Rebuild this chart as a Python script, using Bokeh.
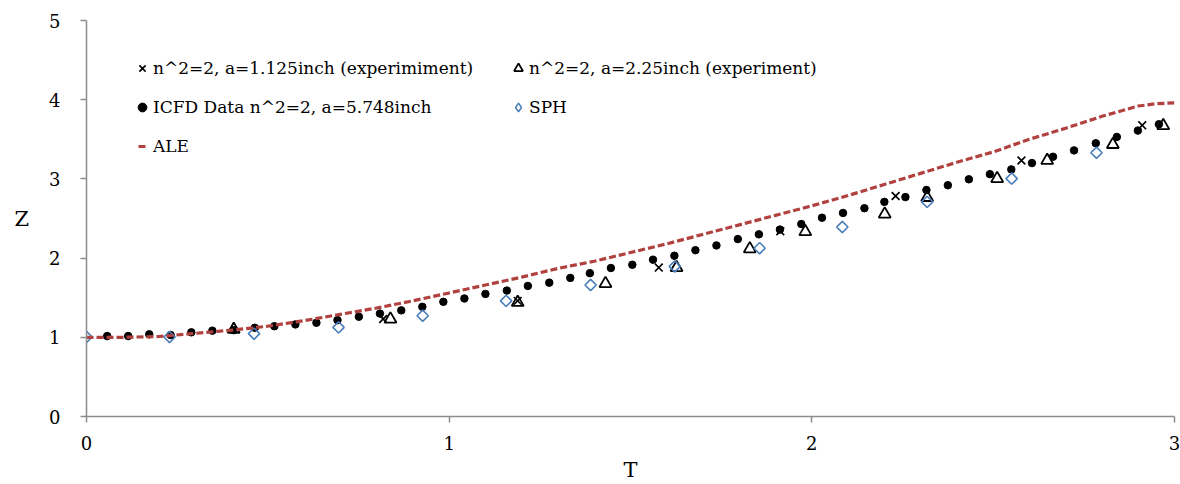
import numpy as np
from bokeh.plotting import figure
from bokeh.models import Range1d, FixedTicker, Legend, LegendItem
from bokeh.embed import file_html
from bokeh.resources import INLINE

# ---------------- data ----------------
# experiment, a = 1.125 inch (x markers)
exp1_t = [0.818, 1.189, 1.578, 1.913, 2.231, 2.578, 2.911]
exp1_z = [1.23, 1.46, 1.88, 2.34, 2.785, 3.233, 3.676]

# experiment, a = 2.25 inch (triangles)
exp2_t = [0.406, 0.838, 1.189, 1.431, 1.627, 1.829, 1.982, 2.201, 2.318, 2.511, 2.649, 2.830, 2.969]
exp2_z = [1.10, 1.23, 1.44, 1.678, 1.88, 2.117, 2.334, 2.556, 2.765, 3.004, 3.233, 3.434, 3.672]

# ICFD data (dots)
icfd_t = [0.057, 0.115, 0.173, 0.232, 0.289, 0.347, 0.406, 0.464, 0.518, 0.576,
          0.634, 0.692, 0.751, 0.809, 0.868, 0.926, 0.984, 1.042, 1.100, 1.159,
          1.217, 1.276, 1.334, 1.388, 1.446, 1.505, 1.562, 1.621, 1.679, 1.737,
          1.796, 1.854, 1.912, 1.971, 2.028, 2.086, 2.145, 2.200, 2.258, 2.316,
          2.375, 2.433, 2.491, 2.550, 2.607, 2.665, 2.723, 2.783, 2.841, 2.899, 2.957]
icfd_z = [1.016, 1.016, 1.038, 1.029, 1.063, 1.084, 1.09, 1.12, 1.14, 1.163,
          1.184, 1.217, 1.26, 1.30, 1.34, 1.385, 1.448, 1.49, 1.548, 1.59,
          1.649, 1.69, 1.75, 1.81, 1.875, 1.916, 1.98, 2.03, 2.10, 2.16,
          2.24, 2.30, 2.36, 2.43, 2.51, 2.57, 2.63, 2.71, 2.77, 2.86,
          2.92, 2.995, 3.06, 3.12, 3.20, 3.28, 3.36, 3.45, 3.53, 3.61, 3.69]

# SPH (diamonds)
sph_t = [0.0, 0.229, 0.462, 0.695, 0.927, 1.157, 1.390, 1.622, 1.856, 2.084, 2.318, 2.551, 2.785]
sph_z = [1.004, 1.004, 1.046, 1.125, 1.272, 1.46, 1.66, 1.895, 2.125, 2.393, 2.71, 3.004, 3.33]

# ALE (dashed line)
ale_t = [0.0, 0.1, 0.2, 0.3, 0.4, 0.5, 0.6, 0.7, 0.8, 0.9, 1.0, 1.1, 1.2, 1.3, 1.4, 1.5,
         1.6, 1.7, 1.8, 1.9, 2.0, 2.1, 2.2, 2.3, 2.4, 2.5, 2.6, 2.7, 2.8, 2.9, 2.95, 3.0]
ale_z = [1.0, 1.0, 1.01, 1.05, 1.09, 1.14, 1.21, 1.29, 1.37, 1.46, 1.56, 1.66, 1.76, 1.87, 1.96, 2.07,
         2.18, 2.30, 2.42, 2.54, 2.66, 2.79, 2.93, 3.07, 3.21, 3.34, 3.50, 3.64, 3.79, 3.92, 3.95, 3.96]

x_ticks = [0, 1, 2, 3]
y_ticks = [0, 1, 2, 3, 4, 5]

labels = ["n^2=2, a=1.125inch (experimiment)",
          "n^2=2, a=2.25inch (experiment)",
          "ICFD Data n^2=2, a=5.748inch",
          "SPH",
          "ALE"]

FONT = "DejaVu Serif"
RED = "#B0413E"
BLUE = "#4A7EBB"
AXIS = "#8C8C8C"

p = figure(width=1180, height=484, output_backend="svg", toolbar_location=None,
           x_range=Range1d(0, 3), y_range=Range1d(0, 5),
           min_border_left=86, min_border_right=6, min_border_top=20, min_border_bottom=65)
p.outline_line_color = None
p.xgrid.visible = False
p.ygrid.visible = False
p.background_fill_color = "white"
p.border_fill_color = "white"

for ax, ticks in ((p.xaxis, x_ticks), (p.yaxis, y_ticks)):
    ax.ticker = FixedTicker(ticks=ticks)
    ax.minor_tick_line_color = None
    ax.axis_line_color = AXIS
    ax.axis_line_width = 1.5
    ax.major_tick_line_color = AXIS
    ax.major_tick_line_width = 1.5
    ax.major_tick_in = 0
    ax.major_tick_out = 6
    ax.major_label_text_font = FONT
    ax.major_label_text_font_size = "18px"
    ax.major_label_text_color = "black"
    ax.axis_label_text_font = FONT
    ax.axis_label_text_font_size = "21px"
    ax.axis_label_text_font_style = "normal"
    ax.axis_label_text_color = "black"

p.xaxis.axis_label = "T"
p.xaxis.major_label_standoff = 13
p.xaxis.axis_label_standoff = 5
p.yaxis.axis_label = "Z"
p.yaxis.axis_label_orientation = "horizontal"
p.yaxis.major_label_standoff = 20
p.yaxis.axis_label_standoff = 17

r_x = p.scatter(exp1_t, exp1_z, marker="x", size=11, line_color="black", line_width=1.7)
r_tri = p.scatter(exp2_t, exp2_z, marker="triangle", size=12, line_color="black",
                  line_width=1.8, fill_alpha=0)
r_dot = p.scatter(icfd_t, icfd_z, marker="circle", size=7.5, fill_color="black", line_color="black")
r_sph = p.scatter(sph_t, sph_z, marker="square", angle=np.pi / 4, size=8, line_color=BLUE,
                  line_width=1.6, fill_alpha=0)
r_ale = p.line(ale_t, ale_z, line_color=RED, line_width=3.2, line_dash="7 3")

# legend-only swatches (their points lie outside the visible ranges)
r_sph_leg = p.scatter([-1], [-1], marker="diamond", size=10, line_color=BLUE,
                      line_width=1.5, fill_alpha=0)
r_ale_leg = p.line([-1, -0.9], [-1, -1], line_color=RED, line_width=3, line_dash="7 30",
                   line_dash_offset=-7)

legend = Legend(items=[LegendItem(label=labels[0], renderers=[r_x]),
                       LegendItem(label=labels[1], renderers=[r_tri]),
                       LegendItem(label=labels[2], renderers=[r_dot]),
                       LegendItem(label=labels[3], renderers=[r_sph_leg]),
                       LegendItem(label=labels[4], renderers=[r_ale_leg])],
                orientation="horizontal", ncols=2,
                location=(45, 259), padding=0, margin=0, spacing=17,
                glyph_width=22, glyph_height=22, label_standoff=0,
                label_width=337, label_height=20,
                label_text_font=FONT, label_text_font_size="17px", label_text_color="black",
                border_line_alpha=0, background_fill_alpha=0)
p.add_layout(legend, "center")

open("out.html", "w").write(file_html(p, INLINE))
